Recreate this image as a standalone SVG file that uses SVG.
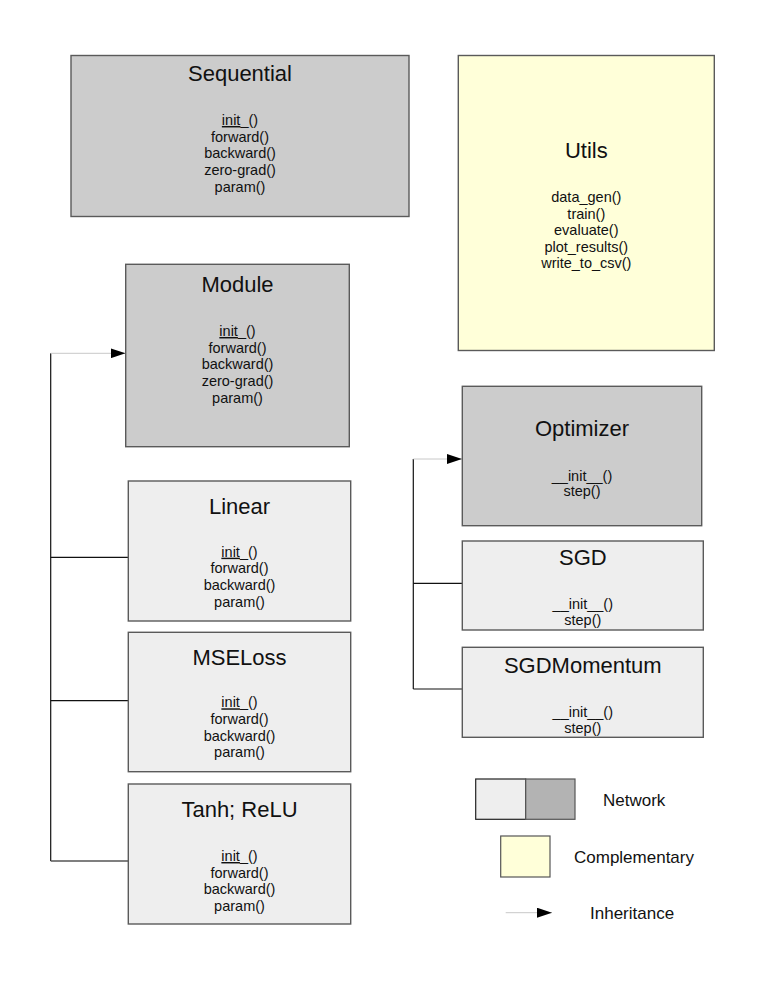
<svg xmlns="http://www.w3.org/2000/svg" width="765" height="990" viewBox="0 0 765 990">
<style>
  .box { stroke: #5a5a5a; stroke-width: 1.4; }
  .dark { fill: #cccccc; }
  .light { fill: #eeeeee; }
  .util { fill: #ffffd9; }
  text { font-family: "Liberation Sans", Arial, sans-serif; fill: #111111; text-anchor: middle; }
  .title { font-size: 22px; }
  .m { font-size: 14.5px; }
  .leg { font-size: 17px; text-anchor: start; }
  .u { text-decoration: underline; }
  .wire { stroke: #111111; stroke-width: 1.2; fill: none; }
  .arr { stroke: #c8c8c8; stroke-width: 1; fill: none; }
</style>
<defs>
  <marker id="tri" markerWidth="15" markerHeight="10" refX="15" refY="5" orient="auto" markerUnits="userSpaceOnUse">
    <path d="M0,0 L15,5 L0,10 Z" fill="#000000"/>
  </marker>
</defs>
<rect width="765" height="990" fill="#ffffff"/>

<g id="connectors">
  <path class="wire" d="M50.7,353.3 V861"/>
  <path class="arr" d="M50.7,353.3 H125.5" marker-end="url(#tri)"/>
  <path class="wire" d="M50.7,557.3 H128.3"/>
  <path class="wire" d="M50.7,700.7 H128.3"/>
  <path class="wire" d="M50.7,861 H128.3" style="stroke:#555555;stroke-width:1.5"/>
  <path class="wire" d="M413.3,459 V689"/>
  <path class="arr" d="M413.3,459 H462" marker-end="url(#tri)"/>
  <path class="wire" d="M413.3,583.3 H462.3"/>
  <path class="wire" d="M413.3,689 H462.3"/>
</g>

<g id="sequential">
  <rect class="box dark" x="71" y="55.5" width="338" height="161"/>
  <text class="title" x="240" y="81">Sequential</text>
  <text class="m" x="240" y="125"><tspan class="u">init</tspan>_()</text>
  <text class="m" x="240" y="141.7">forward()</text>
  <text class="m" x="240" y="158.4">backward()</text>
  <text class="m" x="240" y="175.1">zero-grad()</text>
  <text class="m" x="240" y="191.8">param()</text>
</g>

<g id="utils">
  <rect class="box util" x="458.3" y="55.5" width="256" height="295"/>
  <text class="title" x="586.3" y="158">Utils</text>
  <text class="m" x="586.3" y="202">data_gen()</text>
  <text class="m" x="586.3" y="218.6">train()</text>
  <text class="m" x="586.3" y="235.2">evaluate()</text>
  <text class="m" x="586.3" y="251.8">plot_results()</text>
  <text class="m" x="586.3" y="268.4">write_to_csv()</text>
</g>

<g id="module">
  <rect class="box dark" x="125.7" y="264.3" width="223.6" height="182.4"/>
  <text class="title" x="237.5" y="292">Module</text>
  <text class="m" x="237.5" y="336"><tspan class="u">init</tspan>_()</text>
  <text class="m" x="237.5" y="352.7">forward()</text>
  <text class="m" x="237.5" y="369.4">backward()</text>
  <text class="m" x="237.5" y="386.1">zero-grad()</text>
  <text class="m" x="237.5" y="402.8">param()</text>
</g>

<g id="optimizer">
  <rect class="box dark" x="462.3" y="386.3" width="239.4" height="139.4"/>
  <text class="title" x="582" y="436">Optimizer</text>
  <text class="m" x="582" y="481">__init__()</text>
  <text class="m" x="582" y="495.5">step()</text>
</g>

<g id="linear">
  <rect class="box light" x="128.3" y="481" width="222.4" height="140"/>
  <text class="title" x="239.5" y="513.5">Linear</text>
  <text class="m" x="239.5" y="556.7"><tspan class="u">init</tspan>_()</text>
  <text class="m" x="239.5" y="573.4">forward()</text>
  <text class="m" x="239.5" y="590.1">backward()</text>
  <text class="m" x="239.5" y="606.8">param()</text>
</g>

<g id="sgd">
  <rect class="box light" x="462.3" y="541" width="241" height="89"/>
  <text class="title" x="582.8" y="564.5">SGD</text>
  <text class="m" x="582.8" y="609">__init__()</text>
  <text class="m" x="582.8" y="625">step()</text>
</g>

<g id="sgdmomentum">
  <rect class="box light" x="462.3" y="647.3" width="241" height="90"/>
  <text class="title" x="582.8" y="673">SGDMomentum</text>
  <text class="m" x="582.8" y="716.7">__init__()</text>
  <text class="m" x="582.8" y="732.7">step()</text>
</g>

<g id="mseloss">
  <rect class="box light" x="128.3" y="632.3" width="222.4" height="139.4"/>
  <text class="title" x="239.5" y="664.5">MSELoss</text>
  <text class="m" x="239.5" y="707.3"><tspan class="u">init</tspan>_()</text>
  <text class="m" x="239.5" y="724">forward()</text>
  <text class="m" x="239.5" y="740.7">backward()</text>
  <text class="m" x="239.5" y="757.4">param()</text>
</g>

<g id="tanh-relu">
  <rect class="box light" x="128.3" y="784" width="222.4" height="140"/>
  <text class="title" x="239.5" y="817">Tanh; ReLU</text>
  <text class="m" x="239.5" y="861"><tspan class="u">init</tspan>_()</text>
  <text class="m" x="239.5" y="877.7">forward()</text>
  <text class="m" x="239.5" y="894.4">backward()</text>
  <text class="m" x="239.5" y="911.1">param()</text>
</g>

<g id="legend">
  <rect x="475.7" y="779" width="50" height="40.3" fill="#eeeeee" stroke="#222222" stroke-width="1.2"/>
  <rect x="525.7" y="779" width="49.3" height="40.3" fill="#b3b3b3" stroke="#555555" stroke-width="1.2"/>
  <text class="leg" x="603" y="806">Network</text>
  <rect x="500.7" y="836" width="49.3" height="41" fill="#ffffd9" stroke="#555555" stroke-width="1.2"/>
  <text class="leg" x="574" y="862.5">Complementary</text>
  <path class="arr" d="M505.7,912.7 H552" marker-end="url(#tri)"/>
  <text class="leg" x="590" y="918.5">Inheritance</text>
</g>
</svg>
